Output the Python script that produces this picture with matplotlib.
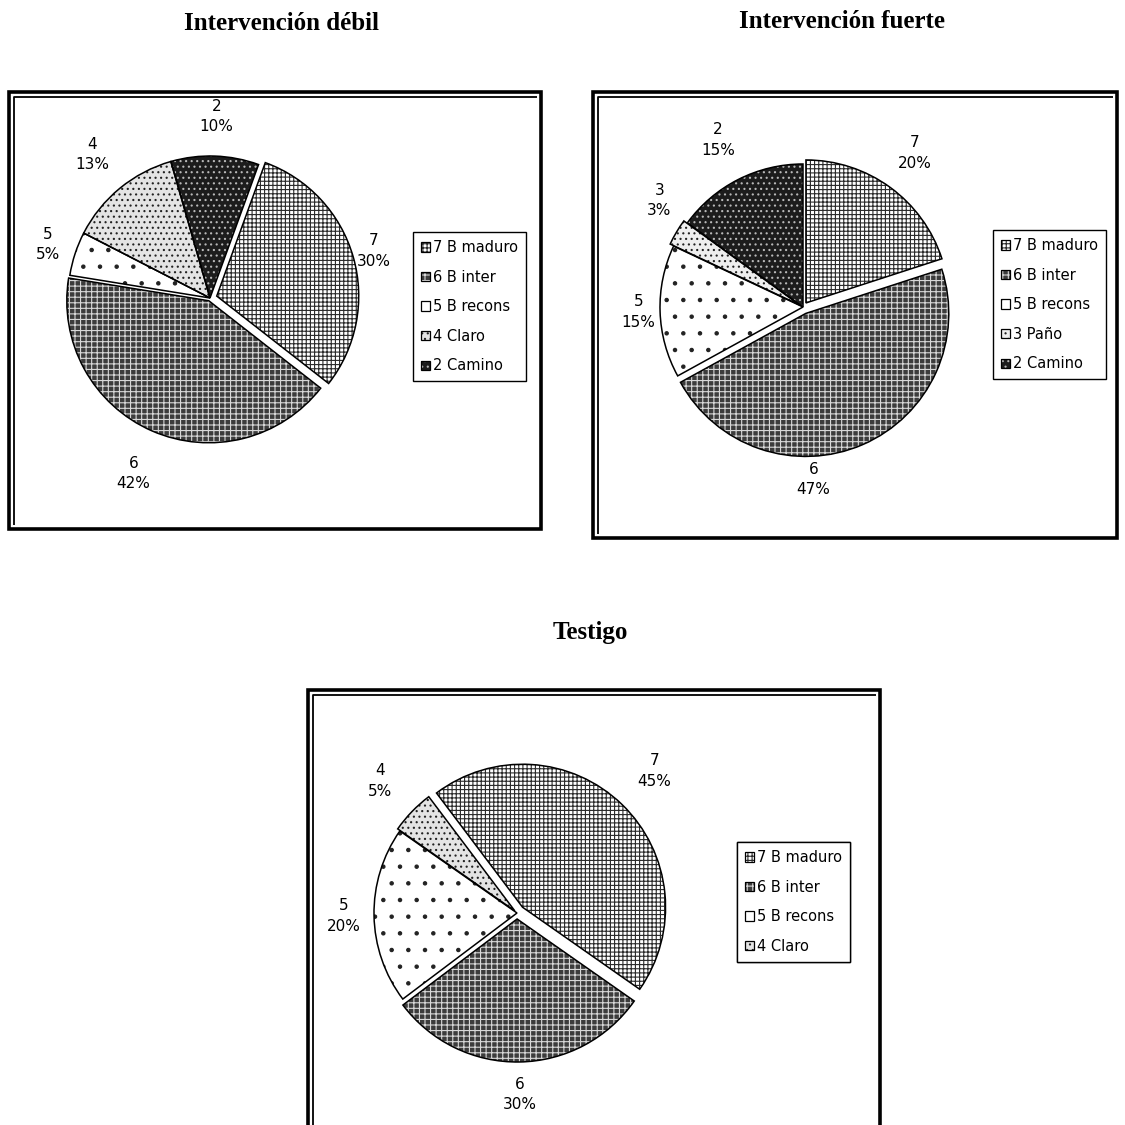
import numpy as np
import matplotlib.pyplot as plt
from matplotlib.patches import Rectangle, Wedge, Patch
from matplotlib.legend_handler import HandlerTuple

plt.rcParams['hatch.linewidth'] = 0.8
plt.rcParams['font.family'] = ['DejaVu Sans']

# ---- data: share (%) of each cover class per treatment ----
debil_cats = ['7', '6', '5', '4', '2']
debil_pct = [30, 42, 5, 13, 10]

fuerte_cats = ['7', '6', '5', '3', '2']
fuerte_pct = [20, 47, 15, 3, 15]

testigo_cats = ['7', '6', '5', '4']
testigo_pct = [45, 30, 20, 5]

class_names = {
    '7': '7 B maduro',
    '6': '6 B inter',
    '5': '5 B recons',
    '4': '4 Claro',
    '3': '3 Paño',
    '2': '2 Camino',
}

titles = ['Intervención débil', 'Intervención fuerte', 'Testigo']

# fill per class: face colour, hatch pattern, hatch colour
fills = {
    '7': ('white', '++++', '#2a2a2a'),
    '6': ('#3c3c3c', '+++', '#d8d8d8'),
    '5': ('white', '.', '#222222'),
    '4': ('#e4e4e4', '...', '#222222'),
    '3': ('#eeeeee', '...', '#222222'),
    '2': ('#1c1c1c', '...', '#b8b8b8'),
}

SIZE = 1125
fig = plt.figure(figsize=(11.25, 11.25), dpi=100)
ax = fig.add_axes([0, 0, 1, 1])


def py(y):
    """Page y (measured downwards) to data y."""
    return SIZE - y


def frame(x0, y0, x1, y1):
    ax.add_patch(Rectangle((x0, py(y1)), x1 - x0, y1 - y0, fill=False,
                           ec='black', lw=2.6))
    ax.plot([x0 + 5, x0 + 5, x1 - 4], [py(y1 - 4), py(y0 + 5), py(y0 + 5)],
            color='black', lw=1.3, solid_capstyle='butt')


def pie(cats, pct, cx, cy, r, first_angle, explode, label_r, label_shift,
        legend_xy):
    wedges, _ = ax.pie(pct, center=(cx, py(cy)), radius=r,
                       startangle=90 - first_angle, counterclock=False,
                       explode=explode, frame=True,
                       wedgeprops=dict(linewidth=0))
    handles = []
    for w, c in zip(wedges, cats):
        fc, h, hc = fills[c]
        w.set_facecolor(fc)
        w.set_hatch(h)
        w.set_edgecolor(hc)
        ax.add_patch(Wedge(w.center, w.r, w.theta1, w.theta2, fill=False,
                           ec='black', lw=1.1))
        handles.append((Patch(facecolor=fc, hatch=h, edgecolor=hc, lw=0),
                        Patch(fill=False, edgecolor='black', lw=0.9)))
    for w, c, v, d, s in zip(wedges, cats, pct, label_r, label_shift):
        a = np.deg2rad((w.theta1 + w.theta2) / 2 - s)
        ax.text(cx + d * r * np.cos(a), py(cy) + d * r * np.sin(a),
                f'{c}\n{v}%', ha='center', va='center', fontsize=11,
                linespacing=1.45)
    leg = ax.legend(handles, [class_names[c] for c in cats],
                    handler_map={tuple: HandlerTuple(ndivide=1, pad=0)},
                    loc='upper left', bbox_to_anchor=legend_xy,
                    bbox_transform=ax.transData, borderaxespad=0,
                    fontsize=10.5, frameon=True, fancybox=False,
                    edgecolor='black', framealpha=1, handlelength=0.6,
                    handleheight=0.6, handletextpad=0.25, labelspacing=1.0,
                    borderpad=0.55)
    leg.get_frame().set_linewidth(1.0)
    ax.add_artist(leg)


# chart frames
frame(8.5, 92, 541, 529)
frame(593, 92, 1117, 538)
frame(307.5, 689.5, 880, 1140)

# titles
title_kw = dict(ha='center', va='center', fontsize=18, fontweight='bold',
                family='Liberation Serif')
ax.text(282, py(24), titles[0], **title_kw)
ax.text(842, py(21), titles[1], **title_kw)
ax.text(590, py(632), titles[2], **title_kw)

# pies
pie(debil_cats, debil_pct, 210, 298, 142, 20,
    explode=[7, 3, 0, 0, 0],
    label_r=[1.2, 1.35, 1.2, 1.31, 1.28],
    label_shift=[0, 0, 0, 0, 0],
    legend_xy=(413, py(232)))

pie(fuerte_cats, fuerte_pct, 803, 307, 143, 0,
    explode=[5, 7, 0, 4, 0],
    label_r=[1.33, 1.21, 1.15, 1.25, 1.31],
    label_shift=[0, 20, 0, 6, 0],
    legend_xy=(993, py(230)))

pie(testigo_cats, testigo_pct, 517, 913, 143, 323,
    explode=[8, 6, 0, 3],
    label_r=[1.38, 1.27, 1.21, 1.33],
    label_shift=[0, 0, 0, 0],
    legend_xy=(737, py(842)))

ax.set_xlim(0, SIZE)
ax.set_ylim(0, SIZE)
ax.set_aspect('equal')
ax.axis('off')

fig.savefig('out.png', dpi=100)
